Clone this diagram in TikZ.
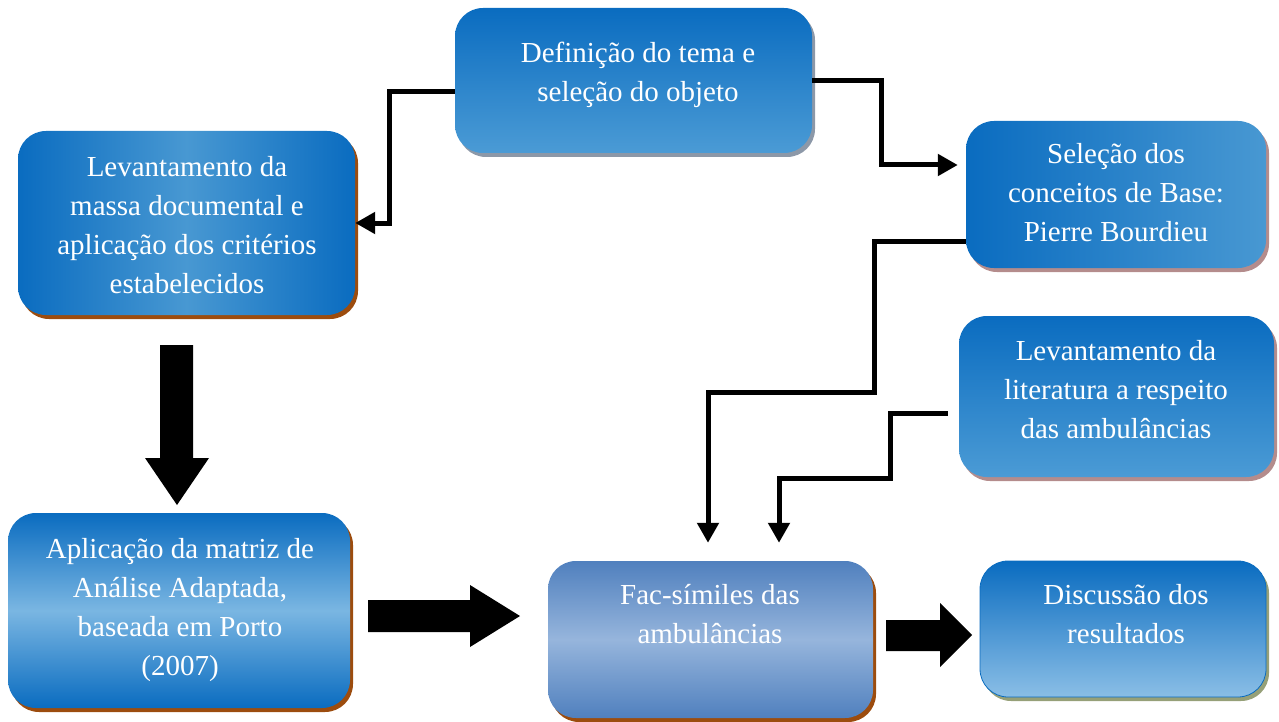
\documentclass[tikz,border=0pt]{standalone}
\usepackage{fontspec}
\setmainfont{Liberation Serif}
\usetikzlibrary{arrows.meta,shadows}
\definecolor{dkblue}{RGB}{10,108,192}
\definecolor{ltblue}{RGB}{75,155,213}
\definecolor{midblue}{RGB}{72,152,210}
\definecolor{aplmid}{RGB}{122,182,226}
\definecolor{facend}{RGB}{80,128,190}
\definecolor{facmid}{RGB}{150,181,220}
\definecolor{disbot}{RGB}{138,190,230}
\definecolor{shgrey}{RGB}{140,152,168}
\definecolor{shbrown}{RGB}{156,76,14}
\definecolor{shrose}{RGB}{180,140,140}
\definecolor{sholive}{RGB}{150,160,120}
\pgfdeclareverticalshading{vdef}{100bp}{color(0bp)=(ltblue); color(25bp)=(ltblue); color(75bp)=(dkblue); color(100bp)=(dkblue)}
\pgfdeclarehorizontalshading{hlev}{100bp}{color(0bp)=(dkblue); color(25bp)=(dkblue); color(50bp)=(midblue); color(75bp)=(dkblue); color(100bp)=(dkblue)}
\pgfdeclarehorizontalshading{hsel}{100bp}{color(0bp)=(dkblue); color(25bp)=(dkblue); color(75bp)=(midblue); color(100bp)=(midblue)}
\pgfdeclareverticalshading{vapl}{100bp}{color(0bp)=(dkblue); color(25bp)=(dkblue); color(50bp)=(aplmid); color(75bp)=(dkblue); color(100bp)=(dkblue)}
\pgfdeclareverticalshading{vfac}{100bp}{color(0bp)=(facend); color(25bp)=(facend); color(50bp)=(facmid); color(75bp)=(facend); color(100bp)=(facend)}
\pgfdeclareverticalshading{vdis}{100bp}{color(0bp)=(disbot); color(25bp)=(disbot); color(75bp)=(dkblue); color(100bp)=(dkblue)}
\tikzset{
  box/.style={rectangle, rounded corners=28pt, inner sep=0pt},
  shad/.style={general shadow={fill=#1, shadow xshift=3pt, shadow yshift=-4pt}},
  txt/.style={text=white, align=center, font=\fontsize{29}{39}\selectfont, inner sep=0pt},
  conn/.style={line width=5pt, -{Triangle[length=20pt,width=21pt]}},
  blockarrow/.style={fill=black}
}
\begin{document}
\begin{tikzpicture}[x=1pt,y=-1pt]
\useasboundingbox (0,0) rectangle (1279,722);
% boxes
\node[box, shad=shgrey, shading=vdef, minimum width=357pt, minimum height=145pt] (def) at (633.5,80.5) {};
\node[box, shad=shbrown, shading=hlev, minimum width=337pt, minimum height=184pt] (lev) at (186.5,223) {};
\node[box, shad=shrose, shading=hsel, minimum width=300pt, minimum height=147pt] (sel) at (1116,194.5) {};
\node[box, shad=shrose, shading=vdef, minimum width=315pt, minimum height=161pt] (lit) at (1116.5,396.5) {};
\node[box, shad=shbrown, shading=vapl, minimum width=342pt, minimum height=195pt] (apl) at (179,610.5) {};
\node[box, shad=shbrown, shading=vfac, minimum width=325pt, minimum height=157pt] (fac) at (710.5,639.5) {};
\node[box, shad=sholive, shading=vdis, draw=dkblue, line width=0.8pt, minimum width=286pt, minimum height=136pt] (dis) at (1123,629) {};
% texts
\node[txt] (tdef) at (638,75) {Definição do tema e\\seleção do objeto};
\node[txt] (tlev) at (187,225) {Levantamento da\\massa documental e\\aplicação dos critérios\\estabelecidos};
\node[txt] (tsel) at (1116,192.5) {Seleção dos\\conceitos de Base:\\Pierre Bourdieu};
\node[txt] (tlit) at (1116,389.5) {Levantamento da\\literatura a respeito\\das ambulâncias};
\node[txt] (tapl) at (180,610) {Aplicação da matriz de\\Análise Adaptada,\\baseada em Porto\\(2007)};
\node[txt] (tfac) at (710,614.5) {Fac-símiles das\\ambulâncias};
\node[txt] (tdis) at (1126,614) {Discussão dos\\resultados};
% connectors
\draw[conn] ([yshift=-11.5pt]def.west) -- ++(-65,0) |- (lev.east);
\draw[conn, shorten >=8pt] (def.east) -- ++(69,0) |- ([yshift=29.5pt]sel.west);
\draw[conn, shorten >=18pt] ([yshift=-46.5pt]sel.west) -- ++(-91,0) -- ++(0,151) -| ([xshift=-2.5pt]fac.north);
\coordinate (litout) at ([xshift=-11pt,yshift=-16.5pt]lit.west);
\draw[conn, shorten >=18pt] (litout) -- ++(-57,0) -- ++(0,65) -| ([xshift=68.5pt]fac.north);
% block arrows
\fill[blockarrow] (160,345) -- (193,345) -- (193,458) -- (209,458) -- (177,505) -- (145,458) -- (160,458) -- cycle;
\fill[blockarrow] (368,600) -- (470,600) -- (470,585) -- (520,616) -- (470,647) -- (470,632) -- (368,632) -- cycle;
\fill[blockarrow] (886,620) -- (940,620) -- (940,603) -- (972,635) -- (940,667) -- (940,651) -- (886,651) -- cycle;
\end{tikzpicture}
\end{document}
